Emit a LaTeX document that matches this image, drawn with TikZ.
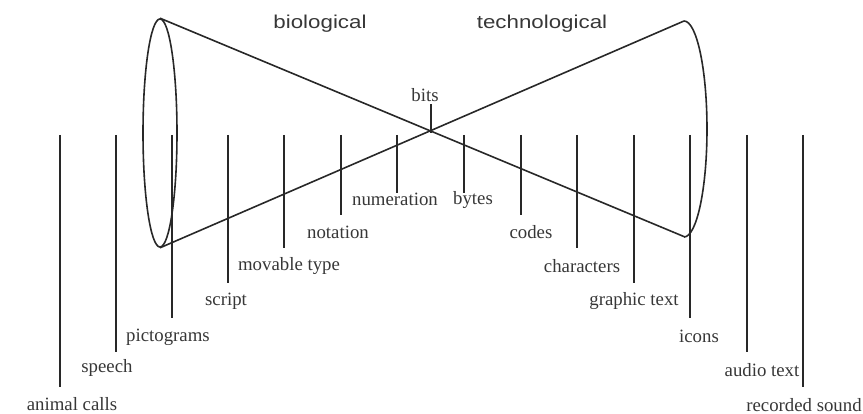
\documentclass[tikz,border=0pt]{standalone}
\usepackage{fontspec}
\setmainfont{Liberation Serif}
\newfontfamily\hsans[FakeStretch=1.2]{Liberation Sans}
\usetikzlibrary{shapes.geometric}
\definecolor{ink}{RGB}{40,40,40}
\definecolor{txt}{RGB}{55,55,55}
\tikzset{
  cone/.style={draw=ink, line width=1.6pt},
  tick/.style={draw=ink, line width=1.5pt},
  lab/.style={inner sep=0pt, text=txt, font=\fontsize{18.8}{22}\selectfont},
  head/.style={inner sep=0pt, text=txt, font=\hsans\fontsize{18.6}{22}\selectfont}
}
\begin{document}
\begin{tikzpicture}[x=1pt,y=-1pt]
\useasboundingbox (0,0) rectangle (863,414);
% cones
\node[ellipse, cone, minimum width=34pt, minimum height=228pt, inner sep=0pt] (lcone) at (160,133) {};
\coordinate (rt) at (684,21);
\coordinate (rb) at (685,237);
\coordinate (cross) at (431,133);
\draw[cone] (lcone.north) -- (rb);
\draw[cone] (lcone.south) -- (rt);
\draw[cone] (rt) arc[start angle=90, end angle=-90, x radius=23pt, y radius=108pt];
% headings
\node[head] (bio) at (320,24) {biological};
\node[head] (tech) at (542,24) {technological};
% bits
\node[lab] (bits) at (425,95) {bits};
\coordinate (bitstop) at (431,104);
\draw[tick] (cross) -- (bitstop);
% vertical ticks: tops
\foreach \n/\x in {a/60,b/116,c/172,d/228,e/284,f/341,g/397,h/464,i/521,j/577,k/634,l/690,m/747,n/803}
  \coordinate (t\n) at (\x,135);
% bottoms
\coordinate (ba) at (60,387);
\coordinate (bb) at (116,352);
\coordinate (bc) at (172,318);
\coordinate (bd) at (228,283);
\coordinate (be) at (284,248);
\coordinate (bf) at (341,215);
\coordinate (bg) at (397,193);
\coordinate (bh) at (464,193);
\coordinate (bi) at (521,215);
\coordinate (bj) at (577,248);
\coordinate (bk) at (634,283);
\coordinate (bl) at (690,318);
\coordinate (bm) at (747,352);
\coordinate (bn) at (803,387);
\foreach \n in {a,b,c,d,e,f,g,h,i,j,k,l,m,n}
  \draw[tick] (t\n) -- (b\n);
% labels
\node[lab] (la) at (72,404) {animal calls};
\node[lab] (lb) at (107,368) {speech};
\node[lab] (lc) at (168,337) {pictograms};
\node[lab] (ld) at (226,301) {script};
\node[lab] (le) at (289,266) {movable type};
\node[lab] (lf) at (338,232) {notation};
\node[lab] (lg) at (395,199) {numeration};
\node[lab] (lh) at (473,200) {bytes};
\node[lab] (li) at (531,232) {codes};
\node[lab] (lj) at (582,266) {characters};
\node[lab] (lk) at (634,301) {graphic text};
\node[lab] (ll) at (699,336) {icons};
\node[lab] (lm) at (762,370) {audio text};
\node[lab] (ln) at (804,405) {recorded sound};
\end{tikzpicture}
\end{document}
